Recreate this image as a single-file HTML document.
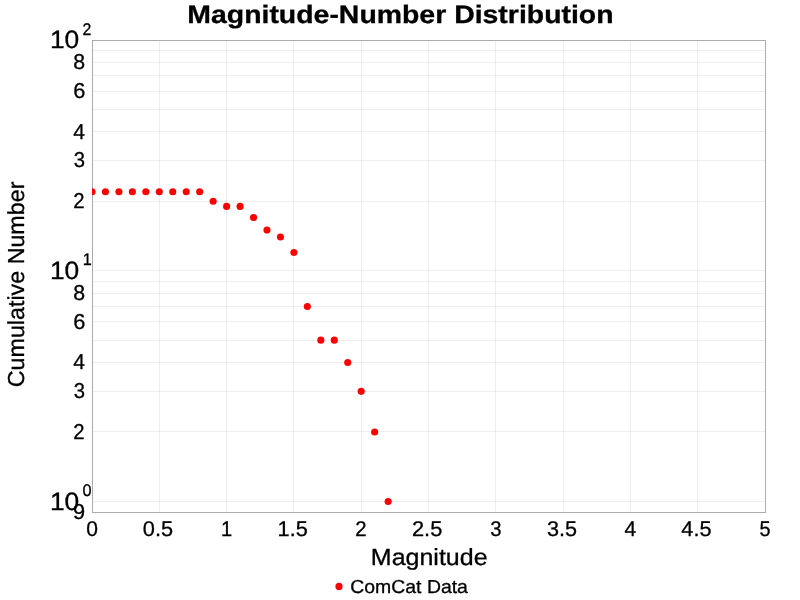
<!DOCTYPE html>
<html><head><meta charset="utf-8"><title>Magnitude-Number Distribution</title>
<style>
html,body{margin:0;padding:0;background:#ffffff;}
body{width:800px;height:600px;overflow:hidden;}
svg{display:block;will-change:transform;text-rendering:geometricPrecision;font-family:"Liberation Sans",sans-serif;fill:#000000;}
</style></head><body>
<svg width="800" height="600" viewBox="0 0 800 600">
<rect x="0" y="0" width="800" height="600" fill="#ffffff"/>
<path d="M159.5 41V512 M226.5 41V512 M293.5 41V512 M361.5 41V512 M428.5 41V512 M495.5 41V512 M563.5 41V512 M630.5 41V512 M697.5 41V512" stroke="#000000" stroke-opacity="0.067" stroke-width="1" fill="none" shape-rendering="crispEdges"/>
<path d="M93 501.5H765 M93 431.5H765 M93 391.5H765 M93 362.5H765 M93 340.5H765 M93 321.5H765 M93 306.5H765 M93 293.5H765 M93 281.5H765 M93 270.5H765 M93 201.5H765 M93 160.5H765 M93 131.5H765 M93 109.5H765 M93 91.5H765 M93 75.5H765 M93 62.5H765 M93 50.5H765" stroke="#000000" stroke-opacity="0.067" stroke-width="1" fill="none" shape-rendering="crispEdges"/>
<rect x="92.5" y="40.5" width="673" height="472" fill="none" stroke="#ababab" stroke-width="1" shape-rendering="crispEdges"/>
<clipPath id="c"><rect x="92" y="40" width="674" height="473"/></clipPath>
<g clip-path="url(#c)" fill="#ff0000">
<circle cx="92.00" cy="191.72" r="3.55"/>
<circle cx="105.46" cy="191.72" r="3.55"/>
<circle cx="118.92" cy="191.72" r="3.55"/>
<circle cx="132.38" cy="191.72" r="3.55"/>
<circle cx="145.84" cy="191.72" r="3.55"/>
<circle cx="159.30" cy="191.72" r="3.55"/>
<circle cx="172.76" cy="191.72" r="3.55"/>
<circle cx="186.22" cy="191.72" r="3.55"/>
<circle cx="199.68" cy="191.72" r="3.55"/>
<circle cx="213.14" cy="201.27" r="3.55"/>
<circle cx="226.60" cy="206.41" r="3.55"/>
<circle cx="240.06" cy="206.41" r="3.55"/>
<circle cx="253.52" cy="217.55" r="3.55"/>
<circle cx="266.98" cy="230.09" r="3.55"/>
<circle cx="280.44" cy="237.01" r="3.55"/>
<circle cx="293.90" cy="252.45" r="3.55"/>
<circle cx="307.36" cy="306.46" r="3.55"/>
<circle cx="320.82" cy="340.17" r="3.55"/>
<circle cx="334.28" cy="340.17" r="3.55"/>
<circle cx="347.74" cy="362.53" r="3.55"/>
<circle cx="361.20" cy="391.36" r="3.55"/>
<circle cx="374.66" cy="431.99" r="3.55"/>
<circle cx="388.12" cy="501.44" r="3.55"/>
</g>
<text transform="translate(187.30 23.00) scale(1.1242 1.0000)" font-size="25.291" font-weight="bold" stroke="#000000" stroke-width="0.3">Magnitude-Number Distribution</text>
<text transform="translate(24.20 387.18) rotate(-90) scale(1.0066 1.0000)" font-size="23.11" stroke="#000000" stroke-width="0.3">Cumulative Number</text>
<text transform="translate(370.85 564.90) scale(1.0718 1.0000)" font-size="23.329" stroke="#000000" stroke-width="0.3">Magnitude</text>
<text transform="translate(350.31 592.80) scale(1.0352 1.0000)" font-size="18.75" stroke="#000000" stroke-width="0.3">ComCat Data</text>
<text transform="translate(49.89 48.16) scale(1.0527 1.0000)" font-size="25.056" stroke="#000000" stroke-width="0.3">10</text>
<text transform="translate(82.41 35.04) scale(0.9403 1.0000)" font-size="16.808" stroke="#000000" stroke-width="0.3">2</text>
<text transform="translate(49.89 278.88) scale(1.0527 1.0000)" font-size="25.056" stroke="#000000" stroke-width="0.3">10</text>
<text transform="translate(82.66 265.04) scale(0.9660 1.0000)" font-size="16.808" stroke="#000000" stroke-width="0.3">1</text>
<text transform="translate(49.89 509.60) scale(1.0527 1.0000)" font-size="25.056" stroke="#000000" stroke-width="0.3">10</text>
<text transform="translate(82.56 496.04) scale(0.9708 1.0000)" font-size="16.808" stroke="#000000" stroke-width="0.3">0</text>
<text transform="translate(73.31 69.10) scale(0.9927 1.0000)" font-size="21.469" stroke="#000000" stroke-width="0.3">8</text>
<text transform="translate(73.16 97.92) scale(1.0164 1.0000)" font-size="21.469" stroke="#000000" stroke-width="0.3">6</text>
<text transform="translate(73.37 138.55) scale(0.9821 1.0000)" font-size="21.469" stroke="#000000" stroke-width="0.3">4</text>
<text transform="translate(73.63 167.38) scale(0.9431 1.0000)" font-size="21.469" stroke="#000000" stroke-width="0.3">3</text>
<text transform="translate(73.32 208.01) scale(0.9466 1.0000)" font-size="21.469" stroke="#000000" stroke-width="0.3">2</text>
<text transform="translate(73.31 299.82) scale(0.9927 1.0000)" font-size="21.469" stroke="#000000" stroke-width="0.3">8</text>
<text transform="translate(73.16 328.64) scale(1.0164 1.0000)" font-size="21.469" stroke="#000000" stroke-width="0.3">6</text>
<text transform="translate(73.37 369.27) scale(0.9821 1.0000)" font-size="21.469" stroke="#000000" stroke-width="0.3">4</text>
<text transform="translate(73.63 398.10) scale(0.9431 1.0000)" font-size="21.469" stroke="#000000" stroke-width="0.3">3</text>
<text transform="translate(73.32 438.73) scale(0.9466 1.0000)" font-size="21.469" stroke="#000000" stroke-width="0.3">2</text>
<text transform="translate(73.11 518.74) scale(1.0143 1.0000)" font-size="21.469" stroke="#000000" stroke-width="0.3">9</text>
<text transform="translate(86.13 535.89) scale(0.9885 1.0000)" font-size="21.327" stroke="#000000" stroke-width="0.3">0</text>
<text transform="translate(142.86 535.89) scale(1.0222 1.0000)" font-size="21.327" stroke="#000000" stroke-width="0.3">0.5</text>
<text transform="translate(220.90 535.89) scale(0.9441 1.0000)" font-size="21.327" stroke="#000000" stroke-width="0.3">1</text>
<text transform="translate(277.54 535.89) scale(1.0197 1.0000)" font-size="21.327" stroke="#000000" stroke-width="0.3">1.5</text>
<text transform="translate(355.28 535.89) scale(0.9528 1.0000)" font-size="21.327" stroke="#000000" stroke-width="0.3">2</text>
<text transform="translate(411.96 535.89) scale(1.0258 1.0000)" font-size="21.327" stroke="#000000" stroke-width="0.3">2.5</text>
<text transform="translate(490.19 535.89) scale(0.9493 1.0000)" font-size="21.327" stroke="#000000" stroke-width="0.3">3</text>
<text transform="translate(546.90 535.89) scale(1.0141 1.0000)" font-size="21.327" stroke="#000000" stroke-width="0.3">3.5</text>
<text transform="translate(624.53 535.89) scale(0.9886 1.0000)" font-size="21.327" stroke="#000000" stroke-width="0.3">4</text>
<text transform="translate(681.27 535.89) scale(1.0219 1.0000)" font-size="21.327" stroke="#000000" stroke-width="0.3">4.5</text>
<text transform="translate(759.38 535.89) scale(0.9329 1.0000)" font-size="21.327" stroke="#000000" stroke-width="0.3">5</text>
<circle cx="339" cy="586.4" r="3.6" fill="#ff0000"/>
</svg>
</body></html>
